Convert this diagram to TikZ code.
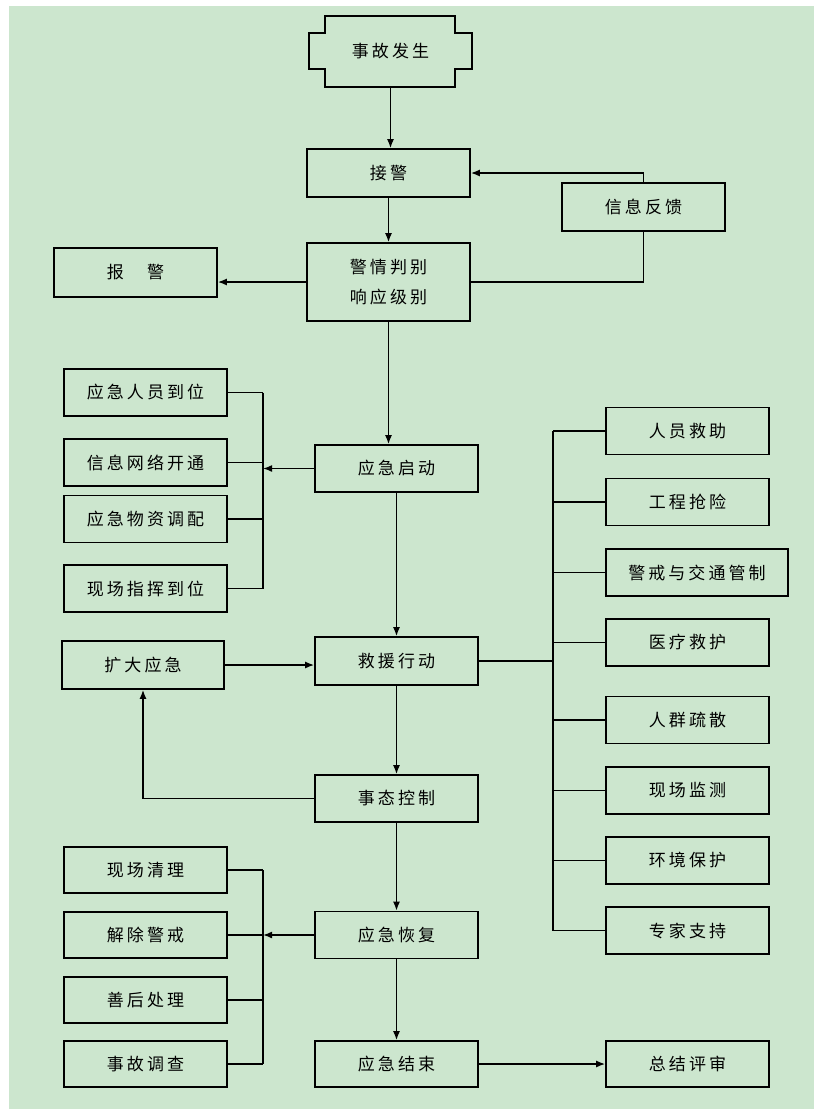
\documentclass[tikz,border=0pt]{standalone}
\usepackage{fontspec}
\newfontfamily\cjk{Noto Sans CJK SC}[LetterSpace=18]
\usetikzlibrary{arrows.meta}
\definecolor{bg}{RGB}{204,230,206}
\tikzset{
  box/.style={draw, line width=1.6pt, minimum width=163pt, minimum height=47pt,
    inner sep=0pt, align=center, font=\cjk\fontsize{17}{30}\selectfont},
  widebox/.style={box, minimum width=182pt},
  arr/.style={line width=1.6pt, -{Latex[length=9pt,width=7pt]}},
  ln/.style={line width=1.6pt},
}
\begin{document}
\begin{tikzpicture}[x=1pt,y=-1pt]
\useasboundingbox (0,0) rectangle (814,1109);
\fill[white] (0,0) rectangle (814,1109);
\fill[bg] (9,6) rectangle (814,1109);
\coordinate (brk) at (263,0);
\coordinate (trk) at (553,0);
\coordinate (brk2) at (263,0);

% top part
\draw[line width=1.6pt] (325,16) -- (455,16) -- (455,33) -- (472,33) -- (472,69) -- (455,69)
  -- (455,87) -- (325,87) -- (325,69) -- (309,69) -- (309,33) -- (325,33) -- cycle;
\node[box, draw=none, minimum height=71pt] (acc) at (390.5,51.5) {事故发生};
\node[box, minimum height=48pt] (jj) at (388.5,173) {接警};
\node[box, minimum height=48pt] (xx) at (643.5,207) {信息反馈};
\node[box, minimum height=78pt] (jq) at (388.5,282) {警情判别\\响应级别};
\node[box, minimum height=49pt] (bj) at (135.5,272.5) {报　警};

\draw[arr] (acc.south) -- (acc.south |- jj.north);
\draw[arr] (jj.south) -- (jq.north);
\draw[arr] (xx.north) |- (jj.east);
\draw[ln] (jq.east) -| (xx.south);
\draw[arr] (jq.west) -- (jq.west -| bj.east);

% emergency start
\node[box] (qd) at (396.5,468.5) {应急启动};
\draw[arr] (jq.south) -- (jq.south |- qd.north);
\node[box] (ry) at (145.5,392.5) {应急人员到位};
\node[box] (wl) at (145.5,462.5) {信息网络开通};
\node[box] (wz) at (145.5,519) {应急物资调配};
\node[box] (zh) at (145.5,588.5) {现场指挥到位};
\foreach \n in {ry,wl,wz,zh} \draw[ln] (\n.east) -- (\n.east -| brk);
\draw[ln] (ry.east -| brk) -- (zh.east -| brk);
\draw[arr] (qd.west) -- (qd.west -| brk);

% rescue actions
\node[box] (ryjz) at (687.5,431) {人员救助};
\node[box] (gcqx) at (687.5,502) {工程抢险};
\node[widebox] (jjgz) at (697,572.5) {警戒与交通管制};
\node[box] (ylju) at (687.5,642.5) {医疗救护};
\node[box] (rqss) at (687.5,720) {人群疏散};
\node[box] (xcjc) at (687.5,790.5) {现场监测};
\node[box] (hjbh) at (687.5,860.5) {环境保护};
\node[box] (zjzc) at (687.5,930.5) {专家支持};
\foreach \n in {ryjz,gcqx,jjgz,ylju,rqss,xcjc,hjbh,zjzc} \draw[ln] (\n.west) -- (\n.west -| trk);
\draw[ln] (ryjz.west -| trk) -- (zjzc.west -| trk);

\node[box, minimum height=48pt] (jy) at (396.5,661) {救援行动};
\draw[arr] (qd.south) -- (jy.north);
\draw[ln] (jy.east) -- (jy.east -| trk);
\node[box, minimum width=162pt, minimum height=48pt] (kd) at (143,665) {扩大应急};
\draw[arr] (kd.east) -- (kd.east -| jy.west);

\node[box] (tk) at (396.5,798.5) {事态控制};
\draw[arr] (jy.south) -- (tk.north);
\draw[arr] (tk.west) -| (kd.south);

% recovery
\node[box] (hf) at (396.5,935) {应急恢复};
\draw[arr] (tk.south) -- (hf.north);
\node[box, minimum height=46pt] (xcql) at (145.5,870) {现场清理};
\node[box, minimum height=46pt] (jcjj) at (145.5,935) {解除警戒};
\node[box, minimum height=46pt] (shcl) at (145.5,1000) {善后处理};
\node[box, minimum height=46pt] (sgdc) at (145.5,1064) {事故调查};
\foreach \n in {xcql,jcjj,shcl,sgdc} \draw[ln] (\n.east) -- (\n.east -| brk2);
\draw[ln] (xcql.east -| brk2) -- (sgdc.east -| brk2);
\draw[arr] (hf.west) -- (hf.west -| brk2);

\node[box, minimum height=46pt] (js) at (396.5,1064) {应急结束};
\draw[arr] (hf.south) -- (js.north);
\node[box, minimum height=46pt] (zj) at (687.5,1064) {总结评审};
\draw[arr] (js.east) -- (zj.west);
\end{tikzpicture}
\end{document}
